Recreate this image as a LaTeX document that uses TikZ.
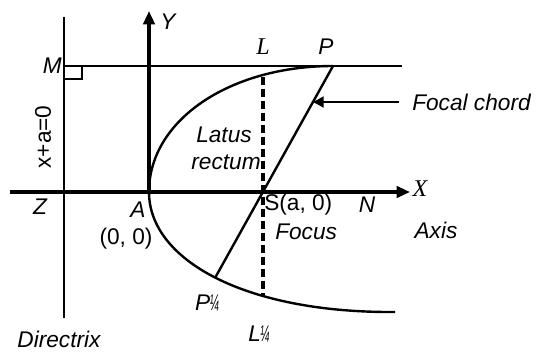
\documentclass[tikz,border=0pt]{standalone}
\usepackage{fontspec}
\setmainfont{Liberation Sans}
\newfontfamily\serifit{Liberation Serif}[ItalicFont={Liberation Serif Italic}]
\usetikzlibrary{arrows.meta}
\begin{document}
\begin{tikzpicture}[x=0.75pt,y=-0.75pt,
  lbl/.style={inner sep=0pt, font=\fontsize{17}{20}\selectfont},
  ilbl/.style={lbl, font=\fontsize{17}{20}\selectfont\itshape},
  slbl/.style={inner sep=0pt, font=\fontsize{18}{21}\selectfont\serifit\itshape},
  thinline/.style={line width=1.8pt},
  axisline/.style={line width=2.4pt},
  curveline/.style={line width=1.8pt},
  latusline/.style={line width=2.4pt, dash pattern=on 6pt off 3pt},
  axtip/.style={-{Triangle[length=10pt,width=8.5pt]}},
  ptrtip/.style={-{Triangle[length=8pt,width=8pt]}}]
\useasboundingbox (0,0) rectangle (538,351);
% key points
\coordinate (Dtop) at (64,17);
\coordinate (Dbot) at (64,318);
\coordinate (M) at (64,66);
\coordinate (TopR) at (402,66);
\coordinate (Xl) at (10,192);
\coordinate (Xr) at (410,192);
\coordinate (A) at (149,192);
\coordinate (Ytop) at (149,11);
\coordinate (P) at (333,66);
\coordinate (Pp) at (215,278);
\coordinate (S) at (263,192);
\coordinate (Ltop) at (263,77);
\coordinate (Lbot) at (263,296);
\coordinate (Pend) at (395,312);
\coordinate (FCstart) at (399,102);
\coordinate (FCend) at (313,102);
% directrix and top line
\draw[thinline] (Dtop) -- (Dbot);
\draw[thinline] (M) -- (TopR);
\draw[thinline] (M) ++(0,13) -| ++(18,-13);
% axes
\draw[axisline,axtip] (Xl) -- (Xr);
\draw[axisline,axtip] (A) -- (Ytop);
% parabola
\draw[curveline] (A) .. controls (149,120) and (230,66) .. (P);
\draw[curveline] (A) .. controls (149,260) and (245,313) .. (Pend);
% focal chord and latus rectum
\draw[thinline] (P) -- (Pp);
\draw[latusline] (Ltop) -- (Lbot);
\draw[line width=2.2pt,ptrtip] (FCstart) -- (FCend);
% labels
\node[ilbl, anchor=east] (lM) at (62,66) {M};
\node[ilbl] (lY) at (168,22) {Y};
\node[slbl] (lL) at (263,47) {L};
\node[ilbl] (lP) at (326,47) {P};
\node[ilbl, anchor=west] (lFC) at (412,102) {Focal chord};
\node[ilbl] (lLat) at (224,135) {Latus};
\node[ilbl] (lRec) at (226,162) {rectum};
\node[lbl, rotate=90] (lDir) at (43,137) {x+a=0};
\node[ilbl] (lZ) at (40,207) {Z};
\node[ilbl] (lA) at (138,210) {A};
\node[lbl] (lO) at (126,239) {(0, 0)};
\node[lbl, anchor=west] (lS) at (264,205) {S(a, 0)};
\node[ilbl] (lN) at (367,205) {N};
\node[slbl] (lX) at (420,189) {X};
\node[ilbl, anchor=west] (lF) at (275,232) {Focus};
\node[ilbl] (lAx) at (436,230) {Axis};
\node[ilbl] (lPp) at (207,303) {P\kern-0.5pt\scalebox{0.5}[1]{¼}};
\node[ilbl] (lLp) at (259,334) {L\kern-0.5pt\scalebox{0.5}[1]{¼}};
\node[ilbl] (lD) at (59,339) {Directrix};
\end{tikzpicture}
\end{document}
